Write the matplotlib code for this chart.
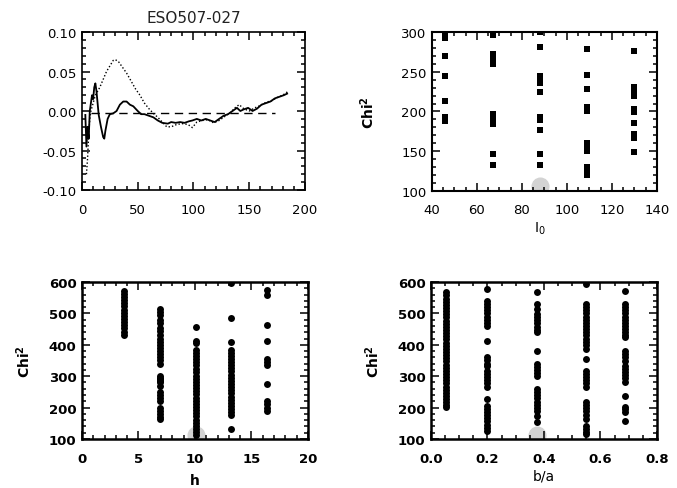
import numpy as np
import matplotlib
matplotlib.use('Agg')
import matplotlib.pyplot as plt
from matplotlib.ticker import MultipleLocator, FormatStrFormatter

# ---------------- data ----------------
galaxy = 'ESO507-027'

# panel 1: profiles
solid_x = [3, 4, 5, 6, 7, 8, 9, 10, 11, 12, 13, 14, 15, 17, 19, 20, 21, 23, 25, 28,
           31, 34, 37, 40, 43, 46, 50, 53, 56, 60, 64, 68, 72, 77, 80, 84, 88, 92, 96, 99,
           103, 107, 111, 115, 119, 123, 127, 131, 135, 139, 142, 145, 149, 153, 157, 161,
           165, 169, 173, 177, 181, 184]
solid_y = [-0.005, -0.045, -0.02, -0.035, 0.0, 0.01, 0.02, 0.015, 0.03, 0.035, 0.025, 0.01,
           -0.005, -0.02, -0.033, -0.035, -0.025, -0.01, -0.004, -0.003, 0.0, 0.008, 0.012,
           0.012, 0.008, 0.006, 0.0, -0.004, -0.004, -0.006, -0.008, -0.012, -0.015, -0.016,
           -0.014, -0.015, -0.014, -0.015, -0.013, -0.012, -0.01, -0.012, -0.01, -0.012,
           -0.014, -0.01, -0.006, -0.004, 0.0, 0.004, 0.0, 0.002, 0.004, 0.0, 0.003, 0.008,
           0.01, 0.012, 0.016, 0.018, 0.02, 0.022]

dot_x = [4, 5, 6, 7, 8, 10, 12, 14, 16, 19, 22, 25, 28, 30, 33, 36, 40, 44, 48, 52, 56, 60,
         64, 68, 72, 76, 80, 85, 90, 95, 99, 103, 108, 113, 118, 123, 128, 133, 138, 141,
         145, 150, 155, 160, 165, 170, 175, 180, 185]
dot_y = [-0.08, -0.06, -0.03, -0.01, 0.0, 0.01, 0.02, 0.025, 0.03, 0.04, 0.05, 0.057, 0.064,
         0.065, 0.062, 0.056, 0.048, 0.038, 0.028, 0.02, 0.01, 0.003, -0.003, -0.008, -0.014,
         -0.02, -0.02, -0.017, -0.016, -0.017, -0.021, -0.014, -0.012, -0.011, -0.015,
         -0.012, -0.007, -0.002, 0.005, 0.008, 0.003, 0.0, 0.004, 0.007, 0.011, 0.013,
         0.017, 0.02, 0.025]

dash_x = [8, 173]
dash_y = [-0.002, -0.002]

# panel 2: chi2 vs I0
i0_vals = [46, 67, 88, 109, 130]
chi_i0 = [
    [298, 293, 270, 244, 213, 193, 188],
    [300, 296, 272, 268, 264, 260, 197, 193, 188, 184, 146, 133],
    [300, 281, 245, 240, 236, 224, 193, 189, 177, 147, 133],
    [279, 246, 228, 205, 201, 160, 155, 150, 130, 125, 120],
    [276, 231, 225, 220, 203, 199, 186, 172, 167, 149],
]
best_i0 = 88

# panel 3: chi2 vs h
h_vals = [3.7, 6.9, 10.1, 13.2, 16.4]
chi_h = [
    [572, 562, 552, 542, 532, 522, 512, 502, 492, 482, 472, 462, 452, 442, 432],
    [515, 505, 495, 480, 470, 455, 445, 430, 420, 410, 400, 390, 380, 370, 360, 350,
     340, 300, 295, 290, 285, 280, 270, 250, 240, 230, 220, 200, 190, 180, 170, 165],
    [456, 412, 405, 385, 375, 365, 355, 345, 335, 322, 312, 302, 292, 282, 272, 262,
     252, 242, 232, 222, 212, 202, 192, 182, 172, 162, 152, 142, 132, 122, 112],
    [598, 484, 408, 385, 375, 365, 355, 345, 335, 325, 315, 305, 295, 285, 275, 265,
     255, 245, 235, 225, 215, 205, 195, 185, 175, 132],
    [575, 560, 463, 413, 355, 345, 335, 275, 220, 210, 200, 190],
]
best_h = 10.1

# panel 4: chi2 vs b/a
ba_vals = [0.053, 0.197, 0.374, 0.549, 0.687]
chi_ba = [
    [567, 557, 547, 537, 527, 517, 507, 497, 487, 477, 467, 457, 447, 437, 427, 417,
     407, 397, 387, 377, 367, 357, 347, 337, 327, 317, 307, 297, 287, 277, 267, 257,
     247, 237, 227, 217, 207, 201],
    [578, 540, 530, 520, 510, 500, 490, 480, 470, 461, 413, 361, 350, 340, 333, 318,
     308, 298, 288, 278, 265, 227, 206, 196, 186, 176, 166, 156, 146, 136, 126],
    [567, 530, 514, 498, 488, 478, 468, 458, 448, 441, 381, 339, 329, 319, 309, 302,
     259, 249, 239, 229, 219, 209, 199, 189, 174, 153],
    [594, 530, 520, 510, 500, 490, 480, 470, 460, 450, 440, 430, 420, 410, 400, 387,
     355, 318, 308, 298, 288, 278, 265, 218, 208, 198, 188, 178, 164, 142, 132, 122, 116],
    [572, 530, 520, 510, 500, 490, 480, 470, 460, 450, 440, 430, 424, 381, 370, 360,
     349, 334, 324, 314, 304, 294, 281, 238, 202, 194, 186, 158],
]
best_ba = 0.374

# ---------------- figure ----------------
fig = plt.figure(figsize=(6.77, 4.89), dpi=100)
plt.rcParams['font.family'] = 'DejaVu Sans'

ax1 = fig.add_axes([0.1211, 0.6094, 0.3294, 0.3231])
ax2 = fig.add_axes([0.6381, 0.6074, 0.3323, 0.3252])
ax3 = fig.add_axes([0.1211, 0.1002, 0.3338, 0.3211])
ax4 = fig.add_axes([0.6366, 0.1002, 0.3338, 0.3211])


def style_axes(ax, lw, bold, xpad):
    for sp in ax.spines.values():
        sp.set_linewidth(lw)
    ax.tick_params(which='both', direction='in', top=True, right=True, width=1.1)
    ax.tick_params(which='major', length=6)
    ax.tick_params(which='minor', length=3)
    ax.tick_params(axis='x', pad=xpad)
    ax.tick_params(axis='y', pad=4)
    for lab in ax.get_xticklabels() + ax.get_yticklabels():
        lab.set_fontsize(9.5)
        if bold:
            lab.set_fontweight('bold')


# panel 1
ax1.plot(solid_x, solid_y, color='black', lw=1.3)
ax1.plot(dot_x, dot_y, color='black', lw=1.0, ls=(0, (1, 1.5)))
ax1.plot(dash_x, dash_y, color='black', lw=1.0, ls=(0, (6, 4)))
ax1.set_xlim(0, 200)
ax1.set_ylim(-0.1, 0.1)
ax1.xaxis.set_major_locator(MultipleLocator(50))
ax1.xaxis.set_minor_locator(MultipleLocator(10))
ax1.yaxis.set_major_locator(MultipleLocator(0.05))
ax1.yaxis.set_minor_locator(MultipleLocator(0.01))
ax1.yaxis.set_major_formatter(FormatStrFormatter('%.2f'))
ax1.set_title(galaxy, fontsize=11, pad=7, color='#222222')
style_axes(ax1, 1.2, False, 9)

# panel 2
for xv, ys in zip(i0_vals, chi_i0):
    ax2.plot([xv] * len(ys), ys, 's', color='black', ms=4.5, mew=0, clip_on=True)
ax2.plot([best_i0], [106], 'o', color='#d3d3d3', ms=13, mew=0, zorder=0)
ax2.set_xlim(40, 140)
ax2.set_ylim(100, 300)
ax2.xaxis.set_major_locator(MultipleLocator(20))
ax2.xaxis.set_minor_locator(MultipleLocator(5))
ax2.yaxis.set_major_locator(MultipleLocator(50))
ax2.yaxis.set_minor_locator(MultipleLocator(10))
ax2.set_ylabel('Chi$^{\\mathbf{2}}$', fontsize=10, fontweight='bold')
ax2.yaxis.set_label_coords(-0.245, 0.5)
ax2.set_xlabel('I$_0$', fontsize=10)
ax2.xaxis.set_label_coords(0.48, -0.18)
style_axes(ax2, 1.5, False, 9)

# panel 3
for xv, ys in zip(h_vals, chi_h):
    ax3.plot([xv] * len(ys), ys, 'o', color='black', ms=5, mew=0)
ax3.plot([best_h], [112], 'o', color='#d3d3d3', ms=13, mew=0, zorder=0)
ax3.set_xlim(0, 20)
ax3.set_ylim(100, 600)
ax3.xaxis.set_major_locator(MultipleLocator(5))
ax3.xaxis.set_minor_locator(MultipleLocator(1))
ax3.yaxis.set_major_locator(MultipleLocator(100))
ax3.yaxis.set_minor_locator(MultipleLocator(20))
ax3.set_ylabel('Chi$^{\\mathbf{2}}$', fontsize=10, fontweight='bold')
ax3.yaxis.set_label_coords(-0.217, 0.5)
ax3.set_xlabel('h', fontsize=10, fontweight='bold')
ax3.xaxis.set_label_coords(0.5, -0.215)
style_axes(ax3, 1.8, True, 9)

# panel 4
for xv, ys in zip(ba_vals, chi_ba):
    ax4.plot([xv] * len(ys), ys, 'o', color='black', ms=5, mew=0)
ax4.plot([best_ba], [112], 'o', color='#d3d3d3', ms=13, mew=0, zorder=0)
ax4.set_xlim(0, 0.8)
ax4.set_ylim(100, 600)
ax4.xaxis.set_major_locator(MultipleLocator(0.2))
ax4.xaxis.set_minor_locator(MultipleLocator(0.05))
ax4.xaxis.set_major_formatter(FormatStrFormatter('%.1f'))
ax4.yaxis.set_major_locator(MultipleLocator(100))
ax4.yaxis.set_minor_locator(MultipleLocator(20))
ax4.set_ylabel('Chi$^{\\mathbf{2}}$', fontsize=10, fontweight='bold')
ax4.yaxis.set_label_coords(-0.217, 0.5)
ax4.set_xlabel('b/a', fontsize=10)
ax4.xaxis.set_label_coords(0.5, -0.19)
style_axes(ax4, 1.8, True, 9)

plt.savefig('out.png', dpi=100)
